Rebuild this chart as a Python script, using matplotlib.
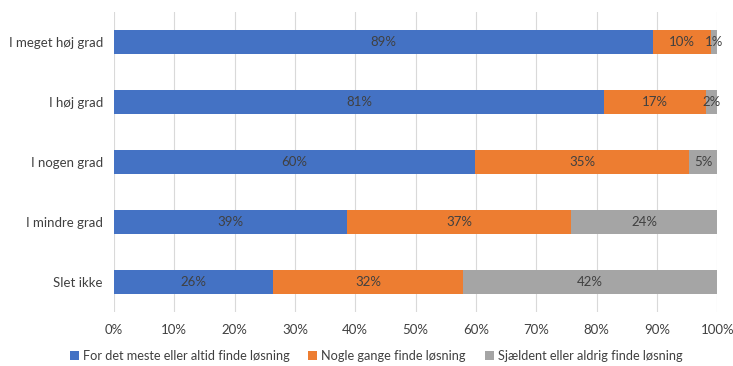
import matplotlib
matplotlib.use("Agg")
import matplotlib.pyplot as plt
import numpy as np

categories = ["I meget høj grad", "I høj grad", "I nogen grad", "I mindre grad", "Slet ikke"]
series_names = ["For det meste eller altid finde løsning",
                "Nogle gange finde løsning",
                "Sjældent eller aldrig finde løsning"]
s1 = [89.3, 81.2, 59.9, 38.6, 26.3]
s2 = [9.6, 17.0, 35.4, 37.2, 31.6]
s3 = [1.1, 1.8, 4.7, 24.2, 42.1]
colors = ["#4472C4", "#ED7D31", "#A5A5A5"]
xticks = [0, 10, 20, 30, 40, 50, 60, 70, 80, 90, 100]

plt.rcParams['font.family'] = ['Lato', 'DejaVu Sans']

fig = plt.figure(figsize=(7.33, 3.66), dpi=100)
ax = fig.add_axes([0.1555, 0.148, 0.823, 0.819])

y = np.arange(len(categories))
left = np.zeros(len(categories))
for vals, col, name in zip([s1, s2, s3], colors, series_names):
    vals = np.array(vals)
    ax.barh(y, vals, left=left, height=0.4, color=col, label=name, zorder=3)
    for yi, l, v in zip(y, left, vals):
        ax.text(l + v / 2, yi, f"{v:.0f}%", ha="center", va="center",
                fontsize=9.5, color="#404040", zorder=4)
    left += vals

ax.set_xlim(0, 100)
ax.set_ylim(len(categories) - 0.5, -0.5)
ax.set_yticks(y)
ax.set_yticklabels(categories, fontsize=9.5, color="#404040")
ax.set_xticks(xticks)
ax.set_xticklabels([f"{t}%" for t in xticks], fontsize=9.5, color="#404040")
ax.tick_params(length=0, pad=8)
ax.tick_params(axis="x", pad=9)
ax.grid(axis="x", color="#D9D9D9", linewidth=0.8, zorder=0)
for s in ax.spines.values():
    s.set_visible(False)

handles, labels = ax.get_legend_handles_labels()
fig.legend(handles, labels, loc="center", bbox_to_anchor=(0.513, 0.027), ncol=3,
           frameon=False, fontsize=9.2, handlelength=0.7, handleheight=0.7,
           handletextpad=0.3, columnspacing=1.5, labelcolor="#404040")

fig.savefig("out.png", dpi=100)
